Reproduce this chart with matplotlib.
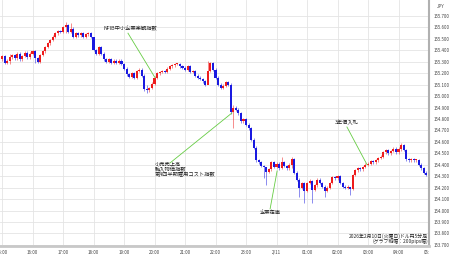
import matplotlib
matplotlib.use("Agg")
import matplotlib.pyplot as plt
from matplotlib.transforms import Bbox

plt.rcParams['font.family'] = ['Noto Sans CJK JP', 'DejaVu Sans']

# 5-minute closes, 15:00 -> 04:55
closes = [
    155.35, 155.29, 155.31, 155.34, 155.36, 155.33, 155.37, 155.32, 155.35, 155.38, 155.34, 155.37,
    155.39, 155.33, 155.30, 155.36, 155.39, 155.43, 155.46, 155.49, 155.52, 155.55, 155.57, 155.56,
    155.60, 155.62, 155.56, 155.59, 155.52, 155.55, 155.53, 155.55, 155.52, 155.54, 155.55, 155.52,
    155.40, 155.37, 155.43, 155.37, 155.32, 155.30, 155.32, 155.29, 155.31, 155.29, 155.31, 155.28,
    155.24, 155.19, 155.17, 155.20, 155.16, 155.22, 155.23, 155.18, 155.06, 155.05, 155.07, 155.11,
    155.16, 155.20, 155.21, 155.22, 155.21, 155.24, 155.26, 155.27, 155.28, 155.28, 155.26, 155.25,
    155.23, 155.26, 155.21, 155.22, 155.18, 155.16, 155.15, 155.13, 155.10, 155.22, 155.29, 155.23,
    155.16, 155.10, 155.07, 155.09, 155.12, 155.10, 154.86, 154.90, 154.88, 154.85, 154.78, 154.80,
    154.75, 154.72, 154.62, 154.55, 154.44, 154.42, 154.39, 154.38, 154.34, 154.36, 154.42, 154.38,
    154.41, 154.37, 154.42, 154.39, 154.37, 154.40, 154.45, 154.33, 154.27, 154.20, 154.24, 154.17,
    154.24, 154.26, 154.18, 154.22, 154.27, 154.24, 154.21, 154.17, 154.20, 154.24, 154.29, 154.28,
    154.30, 154.24, 154.21, 154.20, 154.21, 154.19, 154.31, 154.35, 154.37, 154.36, 154.38, 154.40,
    154.41, 154.43, 154.42, 154.44, 154.46, 154.47, 154.51, 154.53, 154.50, 154.52, 154.54, 154.51,
    154.54, 154.57, 154.53, 154.45, 154.44, 154.45, 154.44, 154.44, 154.40, 154.37, 154.33, 154.31,
]
first_open = 155.32

# notable wicks
wick_idx = [3, 13, 25, 27, 36, 57, 81, 91, 103, 104, 110, 114, 117, 119, 122, 127, 137, 157, 159]
wick_hi = [155.37, 155.40, 155.65, 155.64, 155.47, 155.10, 155.31, 154.92, 154.40, 154.38,
           154.47, 154.47, 154.28, 154.25, 154.27, 154.22, 154.21, 154.59, 154.54]
wick_lo = [155.28, 155.29, 155.55, 155.55, 155.39, 155.03, 155.20, 154.72, 154.28, 154.22,
           154.36, 154.37, 154.12, 154.07, 154.07, 154.12, 154.14, 154.52, 154.43]

hour_labels = ["15:00", "16:00", "17:00", "18:00", "19:00", "20:00", "21:00", "22:00",
               "23:00", "2/11", "01:00", "02:00", "03:00", "04:00", "05:00"]
price_ticks = [153.7, 153.8, 153.9, 154.0, 154.1, 154.2, 154.3, 154.4, 154.5, 154.6, 154.7,
               154.8, 154.9, 155.0, 155.1, 155.2, 155.3, 155.4, 155.5, 155.6, 155.7]

up_col = '#ee1c1c'
dn_col = '#1a1ae0'
green = '#66cc44'

fig = plt.figure(figsize=(4.5, 2.58), dpi=100)
ax = fig.add_axes([0, 12 / 258, 429 / 450, 246 / 258])

opens = [first_open] + closes[:-1]
for i in range(len(closes)):
    o = opens[i]
    c = closes[i]
    x = i / 12
    col = up_col if c >= o else dn_col
    if i in wick_idx:
        k = wick_idx.index(i)
        hi, lo = wick_hi[k], wick_lo[k]
    else:
        hi, lo = max(o, c) + 0.012, min(o, c) - 0.012
    ax.vlines(x, lo, hi, color=col, lw=0.5, alpha=0.7, zorder=2)
    h = max(abs(c - o), 0.006)
    ax.bar(x, h, bottom=min(o, c), width=0.068, color=col, lw=0, zorder=3)

ax.set_xlim(-0.066, 14.0)
ax.set_ylim(153.69, 155.84)

ax.set_xticks(range(len(hour_labels)))
ax.set_xticklabels(hour_labels)
ax.set_yticks(price_ticks)
ax.set_yticklabels(["%.3f" % p for p in price_ticks])
ax.yaxis.tick_right()
ax.tick_params(axis='both', length=0, labelsize=3.2, colors='#444444')
ax.tick_params(axis='x', pad=3)
ax.tick_params(axis='y', pad=3)
ax.grid(True, color='#e4e4e4', lw=0.6, zorder=0)

for s in ['top', 'left']:
    ax.spines[s].set_visible(False)
ax.spines['right'].set_color('#b0b0b0')
ax.spines['right'].set_linewidth(1.5)
ax.spines['bottom'].set_color('#c8c8c8')
ax.spines['bottom'].set_linewidth(2)

# clip the last time label at the price axis
clip = Bbox([[0, 0], [429, 258]])
for lbl in ax.get_xticklabels():
    lbl.set_clip_box(clip)
    lbl.set_clip_on(True)

fig.text(437 / 450, 1 - 6 / 258, "JPY", fontsize=3.2, color='#444444', va='center')

fs = 3.8
ax.plot([4.13, 5.02], [155.55, 155.16], color=green, lw=0.6, zorder=4)
ax.text(3.34, 155.586, "NFIB中小企業楽観指数", fontsize=fs, va='center', color='#222222')

ax.plot([5.51, 7.54], [154.416, 154.853], color=green, lw=0.6, zorder=4)
ax.text(5.02, 154.43, "小売売上高\n輸入物価指数\n第4四半期雇用コスト指数", fontsize=fs,
        va='top', linespacing=1.05, color='#222222')

ax.plot([8.79, 9.02], [154.014, 154.346], color=green, lw=0.6, zorder=4)
ax.text(8.46, 153.98, "企業在庫", fontsize=fs, va='center', color='#222222')

ax.plot([11.31, 11.97], [154.73, 154.40], color=green, lw=0.6, zorder=4)
ax.text(10.92, 154.774, "3年債入札", fontsize=fs, va='center', color='#222222')

ax.text(13.97, 153.779, "2026年2月10日(火曜日)ドル円5分足", fontsize=3.5, ha='right', va='center',
        color='#222222')
ax.text(13.97, 153.731, "(グラフ縦幅：200pips幅)", fontsize=3.5, ha='right', va='center',
        color='#222222')

fig.savefig("out.png", dpi=100)
